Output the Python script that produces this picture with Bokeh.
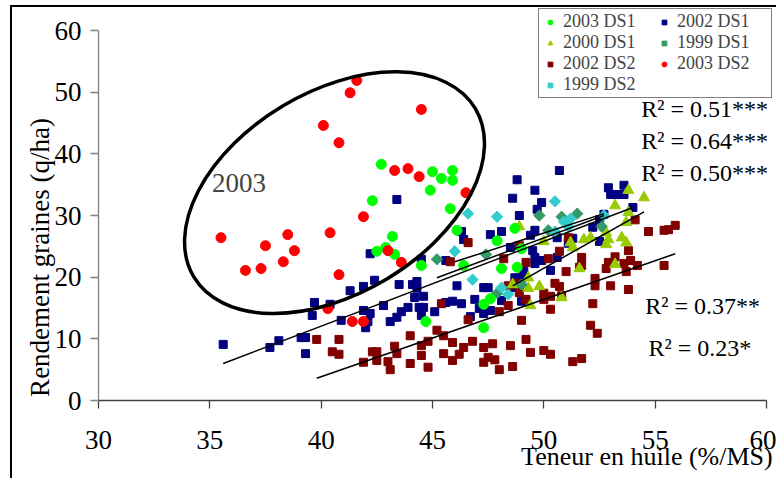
from bokeh.plotting import figure
from bokeh.models import FixedTicker, Label, Legend, LegendItem, LinearAxis
from bokeh.embed import file_html
from bokeh.resources import INLINE
from bokeh.core.properties import value

FONT = "Liberation Serif"

# ---------------- data ----------------
x_ticks = [30, 35, 40, 45, 50, 55, 60]
y_ticks = [0, 10, 20, 30, 40, 50, 60]

# 2003 DS1 (green circles)
g03ds1_x = [42.3, 42.7, 45.0, 45.4, 45.9, 45.9, 44.9, 45.8, 43.2, 42.9, 42.5, 43.3,
            44.5, 46.1, 46.4, 47.9, 48.1, 48.8, 48.7, 49.0, 47.3, 47.6, 44.7, 47.3]
g03ds1_y = [32.4, 38.3, 37.1, 36.0, 37.3, 35.7, 34.1, 31.1, 26.6, 24.8, 24.2, 23.7,
            21.9, 27.6, 21.9, 25.9, 21.4, 21.6, 27.9, 24.6, 15.6, 16.5, 12.8, 11.8]

# 2003 DS2 (red circles)
r03ds2_x = [35.5, 36.6, 37.3, 37.5, 38.3, 38.5, 38.8, 40.4, 40.8, 40.3, 40.1, 40.8,
            41.3, 41.6, 41.9, 44.5, 43.3, 43.9, 44.4, 46.5, 43.0, 43.6, 41.4, 41.9]
r03ds2_y = [26.4, 21.1, 21.4, 25.1, 22.5, 26.9, 24.3, 27.2, 20.4, 14.9, 44.6, 41.8,
            49.9, 51.9, 29.8, 47.2, 37.3, 37.6, 36.3, 33.7, 24.3, 22.4, 12.8, 12.8]

# 2002 DS1 (navy squares)
b02ds1_x = [35.6, 37.7, 38.1, 39.1, 39.3, 39.3, 39.7, 39.6, 40.4, 40.9, 41.3, 41.9,
            42.4, 42.2, 41.9, 42.2, 42.1, 42.0, 43.4, 44.5, 43.5, 44.1, 44.3, 44.3,
            44.2, 44.6, 42.8, 43.6, 43.9, 43.4, 43.1, 44.4, 44.6, 44.5, 45.1, 45.6,
            45.9, 46.3, 46.1, 46.9, 47.3, 47.5, 47.1, 47.3, 47.6, 46.7, 48.1, 49.0,
            48.7, 49.0, 49.1, 48.6, 49.4, 49.6, 49.5, 49.6, 49.6, 49.9, 50.3, 49.9,
            49.7, 49.6, 48.6, 48.8, 48.9, 47.6, 48.1, 48.5, 46.3, 46.4, 45.6, 50.7,
            50.6, 52.9, 53.6, 53.3, 53.0, 53.6, 54.0, 52.7, 52.5, 52.2, 50.6, 51.3,
            51.1, 52.5]
b02ds1_y = [9.1, 8.6, 9.7, 10.2, 10.2, 7.6, 15.9, 13.8, 15.6, 13.0, 17.8, 18.5,
            19.5, 23.8, 14.6, 14.1, 12.8, 11.8, 32.6, 22.9, 18.8, 18.8, 19.3, 18.2,
            16.7, 16.9, 15.4, 14.4, 15.1, 13.5, 12.8, 15.1, 15.1, 13.8, 14.4, 15.9,
            16.1, 15.7, 18.6, 16.4, 18.3, 18.3, 14.9, 14.1, 14.6, 13.6, 16.2, 16.1,
            19.9, 19.9, 21.1, 18.3, 26.8, 27.6, 24.3, 23.2, 22.2, 22.7, 21.1, 32.1,
            31.0, 34.1, 32.8, 35.8, 30.0, 26.9, 27.4, 24.8, 27.4, 26.1, 22.7, 37.3,
            23.2, 34.5, 34.9, 33.4, 33.4, 33.4, 31.3, 30.2, 29.3, 28.1, 26.4, 26.3,
            25.5, 25.8]

# 2002 DS2 (dark red squares)
m02ds2_x = [39.8, 40.8, 40.5, 40.8, 41.9, 42.3, 42.5, 42.5, 43.0, 43.1, 43.3, 43.4,
            44.0, 44.0, 44.5, 44.5, 44.8, 44.8, 45.2, 45.5, 45.5, 45.9, 45.9, 46.2,
            46.4, 46.8, 47.3, 47.5, 47.7, 47.8, 47.3, 48.0, 48.5, 48.6, 49.0, 49.2,
            49.4, 50.0, 50.3, 51.3, 51.7, 52.1, 52.4, 52.2, 46.6, 45.8, 45.4, 46.6,
            48.2, 48.9, 49.2, 48.4, 48.7, 48.9, 48.4, 48.0, 49.2, 50.2, 50.0, 50.3,
            50.3, 50.7, 51.7, 51.7, 51.6, 51.0, 50.5, 50.7, 50.8, 50.0, 54.1, 54.7,
            55.4, 55.6, 55.9, 53.8, 53.2, 52.9, 52.8, 53.6, 53.9, 53.7, 54.2, 55.4,
            52.3, 52.3, 53.0, 53.8, 51.1]
m02ds2_y = [9.9, 9.9, 7.9, 7.5, 6.2, 7.9, 7.9, 6.5, 6.3, 5.0, 8.8, 7.6,
            10.5, 6.0, 8.9, 7.3, 5.4, 9.6, 11.4, 10.5, 7.6, 9.4, 6.5, 7.5,
            8.6, 9.6, 8.6, 7.0, 9.2, 6.6, 6.2, 5.0, 8.9, 5.5, 13.0, 9.9,
            7.8, 8.1, 7.5, 6.3, 6.8, 12.2, 10.9, 15.7, 25.6, 22.5, 15.7, 13.1,
            23.0, 25.1, 22.4, 18.6, 19.0, 17.5, 15.4, 14.4, 16.4, 23.0, 17.4, 16.9,
            14.8, 24.2, 23.2, 21.9, 21.6, 20.9, 19.0, 18.5, 17.0, 16.4, 29.3, 27.4,
            27.6, 27.7, 28.4, 24.3, 23.3, 22.4, 21.4, 22.2, 22.7, 20.9, 21.9, 21.9,
            19.8, 18.6, 18.6, 18.0, 26.4]

# 2000 DS1 (yellow-green triangles)
o00ds1_x = [53.8, 54.5, 53.2, 53.8, 53.7, 52.8, 52.1, 51.8, 52.9, 52.8, 53.5, 53.7,
            51.2, 51.3, 50.0, 53.2, 49.3, 49.8, 49.3, 51.6, 50.8, 48.9, 48.6, 49.4]
o00ds1_y = [34.1, 32.9, 31.6, 30.5, 28.9, 27.2, 26.4, 26.1, 26.1, 25.3, 26.4, 25.6,
            25.6, 24.8, 25.8, 22.1, 19.9, 18.5, 18.2, 21.4, 16.7, 28.2, 18.8, 15.4]

# 1999 DS1 (sea-green diamonds)
t99ds1_x = [45.2, 47.4, 47.9, 49.0, 49.8, 50.2, 50.8, 51.5, 52.6]
t99ds1_y = [22.9, 23.7, 17.4, 18.8, 30.0, 27.6, 29.8, 30.3, 28.2]

# 1999 DS2 (turquoise diamonds)
c99ds2_x = [46.6, 47.9, 46.0, 46.8, 48.1, 48.4, 50.5, 50.9, 51.2, 51.1, 50.5, 52.7]
c99ds2_y = [30.3, 29.8, 24.2, 19.6, 18.3, 17.2, 32.3, 29.0, 29.5, 28.2, 27.4, 30.0]

# trend lines (start / end)
trend_x0 = [35.6, 39.8, 48.6, 45.2, 46.0]
trend_y0 = [6.0, 3.6, 18.6, 19.9, 22.5]
trend_x1 = [54.0, 55.9, 54.5, 52.7, 52.7]
trend_y1 = [31.3, 23.8, 30.6, 30.0, 30.3]

r2_text = ["R\u00b2 = 0.51***", "R\u00b2 = 0.64***", "R\u00b2 = 0.50***",
           "R\u00b2 = 0.37**", "R\u00b2 = 0.23*"]
r2_x = [54.38, 54.38, 54.38, 54.56, 54.70]
r2_y = [47.35, 42.16, 36.97, 15.40, 8.59]

x_title = "Teneur en huile (%/MS)"
y_title = "Rendement graines (q/ha)"
x_title_at = 54.63   # centre of the x title along the x axis
y_title_at = 23.2    # centre of the y title along the y axis

# ---------------- figure ----------------
X_END = 60.27
Y_END = 63.57

p = figure(width=766, height=473, x_range=(30, X_END), y_range=(0, Y_END),
           output_backend="svg", toolbar_location=None,
           min_border_left=86, min_border_right=6, min_border_top=1,
           min_border_bottom=80)
p.styles = {"border-left": "2px solid black", "border-top": "2px solid black",
            "margin-left": "10px", "margin-top": "5px"}
p.outline_line_color = None
p.grid.visible = False
p.background_fill_color = "white"
p.border_fill_color = "white"

p.xaxis.ticker = FixedTicker(ticks=x_ticks)
p.yaxis.ticker = FixedTicker(ticks=y_ticks)
p.xaxis.bounds = (30, 60)
p.yaxis.bounds = (0, 60)
for ax in (p.xaxis[0], p.yaxis[0]):
    ax.major_tick_in = 0
    ax.major_tick_out = 8
    ax.minor_tick_in = 0
    ax.minor_tick_out = 0
    ax.major_label_text_font = FONT
    ax.major_label_text_font_size = "27px"
    ax.major_label_text_color = "black"
    ax.axis_line_width = 1.3
    ax.major_tick_line_width = 1.3
p.xaxis.axis_line_color = "#404040"
p.xaxis.major_tick_line_color = "#404040"
p.yaxis.axis_line_color = "#808080"
p.yaxis.major_tick_line_color = "#808080"
p.xaxis.major_label_standoff = 22
p.yaxis.major_label_standoff = 9


def title_axis(label, at, size, standoff, orientation):
    return LinearAxis(ticker=FixedTicker(ticks=[at]),
                      major_label_overrides={at: label},
                      axis_line_color=None, major_tick_line_color=None,
                      minor_tick_line_color=None, major_tick_out=0,
                      major_tick_in=0, minor_tick_out=0, minor_tick_in=0,
                      major_label_standoff=standoff,
                      major_label_orientation=orientation,
                      major_label_text_font=FONT,
                      major_label_text_font_size=size,
                      major_label_text_color="black")


# extra axes that only carry the titles, placed where the original has them
p.add_layout(title_axis(x_title, x_title_at, "26px", -10, "horizontal"), "below")
p.add_layout(title_axis(y_title, y_title_at, "27px", -4, "vertical"), "left")

# points
r_b = p.scatter(b02ds1_x, b02ds1_y, marker="square", size=8, color="#000080")
r_m = p.scatter(m02ds2_x, m02ds2_y, marker="square", size=8, color="#800000")
r_o = p.scatter(o00ds1_x, o00ds1_y, marker="triangle", size=11, color="#99CC00")
r_t = p.scatter(t99ds1_x, t99ds1_y, marker="square", angle=0.785398, size=8,
                color="#339966")
r_c = p.scatter(c99ds2_x, c99ds2_y, marker="square", angle=0.785398, size=8,
                color="#33CCCC")
r_g = p.scatter(g03ds1_x, g03ds1_y, marker="circle", size=10, color="#00FF00")
r_r = p.scatter(r03ds2_x, r03ds2_y, marker="circle", size=10, color="#FF0000")

# trend lines
p.segment(x0=trend_x0, y0=trend_y0, x1=trend_x1, y1=trend_y1,
          line_color="black", line_width=1.5)

# ellipse around 2003
p.ellipse(x=[40.6], y=[33.7], width=328, height=202, width_units="screen",
          height_units="screen", angle=30.9, angle_units="deg",
          fill_color=None, line_color="black", line_width=3.5)

p.add_layout(Label(x=35.1, y=35.3, text="2003", text_font=FONT,
                   text_font_size="27px", text_baseline="middle"))

# R2 texts
p.text(x=r2_x, y=r2_y, text=r2_text, text_font=value(FONT),
       text_font_size="24px", text_baseline="middle", text_align="left",
       text_color="black")

# legend (column-major fill: first column then second)
items = [
    LegendItem(label="2003 DS1", renderers=[r_g]),
    LegendItem(label="2000 DS1", renderers=[r_o]),
    LegendItem(label="2002 DS2", renderers=[r_m]),
    LegendItem(label="1999 DS2", renderers=[r_c]),
    LegendItem(label="2002 DS1", renderers=[r_b]),
    LegendItem(label="1999 DS1", renderers=[r_t]),
    LegendItem(label="2003 DS2", renderers=[r_r]),
]
legend = Legend(items=items, location="top_right", ncols=2, margin=0,
                padding=2, spacing=0, label_standoff=4, glyph_width=18,
                glyph_height=12, label_height=18, label_width=92,
                label_text_font=FONT, label_text_font_size="18px",
                border_line_color="black", border_line_width=1.5,
                background_fill_color="white", background_fill_alpha=1.0)
p.add_layout(legend)

open("out.html", "w").write(file_html(p, INLINE))
